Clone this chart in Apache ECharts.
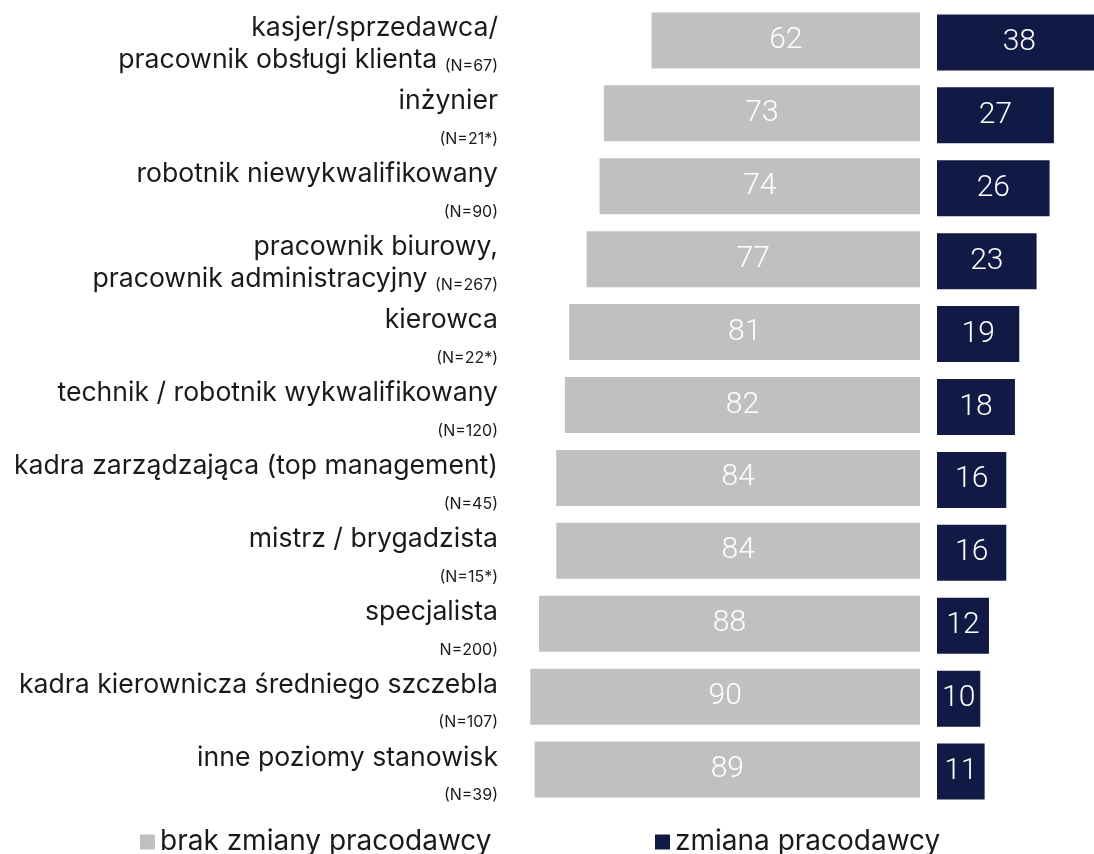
<!DOCTYPE html>
<html>
<head>
<meta charset="utf-8">
<script src="https://cdn.jsdelivr.net/npm/echarts@6/dist/echarts.min.js"></script>
<style>
  html, body { margin: 0; padding: 0; background: #fff; }
  #chart { width: 1094px; height: 854px; }
</style>
</head>
<body>
<div id="chart"></div>
<script>
// categories: first line, second line (large text), sample size
var line1 = ['kasjer/sprzedawca/', 'inżynier', 'robotnik niewykwalifikowany', 'pracownik biurowy,', 'kierowca',
  'technik / robotnik wykwalifikowany', 'kadra zarządzająca (top management)', 'mistrz / brygadzista',
  'specjalista', 'kadra kierownicza średniego szczebla', 'inne poziomy stanowisk']
var line2 = ['pracownik obsługi klienta ', '', '', 'pracownik administracyjny ', '', '', '', '', '', '', '']
var sampleN = ['(N=67)', '(N=21*)', '(N=90)', '(N=267)', '(N=22*)', '(N=120)', '(N=45)', '(N=15*)', 'N=200)', '(N=107)', '(N=39)']

var noChange = [62, 73, 74, 77, 81, 82, 84, 84, 88, 90, 89]
var changed = [38, 27, 26, 23, 19, 18, 16, 16, 12, 10, 11]

var categories = line1.map(function (t, i) { return String(i) })

var GRAY = '#c0c0c0'
var NAVY = '#111a44'
var PX_PER_UNIT = 4.33

var chart = echarts.init(document.getElementById('chart'))

chart.setOption({
  animation: false,
  legend: [{
    left: 135,
    top: 823,
    icon: 'rect',
    itemWidth: 15,
    itemHeight: 15,
    itemGap: 6,
    textStyle: { fontFamily: 'Inter', fontSize: 28, color: '#1a1a1a' },
    data: ['brak zmiany pracodawcy']
  }, {
    left: 650,
    top: 823,
    icon: 'rect',
    itemWidth: 15,
    itemHeight: 15,
    textStyle: { fontFamily: 'Inter', fontSize: 28, color: '#1a1a1a' },
    data: ['zmiana pracodawcy']
  }],
  grid: [
    { left: 500, width: 420, top: 4, height: 802 },
    { left: 937, right: 0, top: 6, height: 802 }
  ],
  xAxis: [
    { gridIndex: 0, type: 'value', min: 0, max: 420 / PX_PER_UNIT, inverse: true, show: false },
    { gridIndex: 1, type: 'value', min: 0, max: 157 / PX_PER_UNIT, show: false }
  ],
  yAxis: [{
    gridIndex: 0,
    type: 'category',
    inverse: true,
    data: categories,
    axisLine: { show: false, onZero: false },
    axisTick: { show: false },
    position: 'left',
    axisLabel: {
      margin: 2,
      align: 'right',
      padding: [8, 0, 0, 0],
      formatter: function (v) {
        var i = +v
        return '{big|' + line1[i] + '}\n' + (line2[i] ? '{big|' + line2[i] + '}' : '') + '{small|' + sampleN[i] + '}'
      },
      rich: {
        big: { fontFamily: 'Inter', fontSize: 26.6, color: '#1a1a1a', lineHeight: 32 },
        small: { fontFamily: 'Inter', fontSize: 16, color: '#1a1a1a', lineHeight: 32, verticalAlign: 'bottom', padding: [0, 0, 2, 0] }
      }
    }
  }, {
    gridIndex: 1,
    type: 'category',
    inverse: true,
    data: categories,
    show: false
  }],
  series: [{
    name: 'brak zmiany pracodawcy',
    type: 'bar',
    xAxisIndex: 0,
    yAxisIndex: 0,
    barWidth: 56,
    itemStyle: { color: GRAY },
    label: {
      show: true,
      position: 'inside',
      color: '#fff',
      fontFamily: 'Roboto',
      fontSize: 30,
      fontWeight: 300
    },
    data: noChange
  }, {
    name: 'zmiana pracodawcy',
    type: 'bar',
    xAxisIndex: 1,
    yAxisIndex: 1,
    barWidth: 56,
    clip: false,
    itemStyle: { color: NAVY },
    label: {
      show: true,
      position: 'inside',
      color: '#fff',
      fontFamily: 'Roboto',
      fontSize: 30,
      fontWeight: 300
    },
    data: changed
  }]
})
</script>
</body>
</html>
